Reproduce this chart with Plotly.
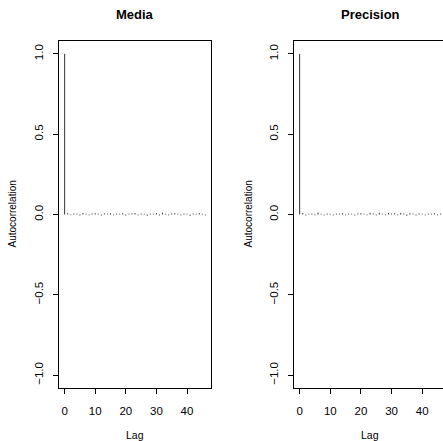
import plotly.graph_objects as go

# Data: autocorrelation by lag (0..46)
lags = list(range(0, 47))
acf_media = [1.0, 0.008, -0.004, 0.006, 0.005, -0.006, 0.009, 0.005, -0.005, 0.006,
             0.008, 0.005, -0.006, 0.007, 0.005, 0.008, -0.005, 0.006, 0.005, 0.008,
             -0.006, 0.005, 0.007, 0.009, -0.005, 0.006, 0.005, -0.008, 0.006, 0.005,
             0.009, -0.006, 0.011, 0.005, -0.005, 0.007, 0.008, 0.005, -0.006, 0.007,
             0.005, -0.008, 0.006, 0.005, 0.009, 0.005, -0.005]
acf_prec = [1.0, 0.009, -0.006, 0.005, 0.006, -0.005, 0.012, 0.005, -0.006, 0.006,
            0.005, -0.005, 0.006, 0.005, 0.008, -0.005, 0.006, 0.005, -0.006, 0.007,
            0.008, 0.005, -0.005, 0.010, 0.006, -0.006, 0.011, 0.005, -0.005, 0.010,
            0.006, 0.008, -0.005, 0.010, 0.006, -0.008, 0.008, 0.005, -0.006, 0.007,
            0.005, -0.005, 0.006, 0.005, 0.008, -0.005, 0.006]
titles = ["Media", "Precision"]
x_ticks = [0, 10, 20, 30, 40]
y_ticks = [-1.0, -0.5, 0.0, 0.5, 1.0]
y_tick_labels = ["\u22121.0", "\u22120.5", "0.0", "0.5", "1.0"]

W, H = 443, 441
FONT = "Liberation Sans, Arial, Helvetica, sans-serif"

def segs(xs, ys):
    sx, sy = [], []
    for a, b in zip(xs, ys):
        sx += [a, a, None]
        sy += [0, b, None]
    return sx, sy

fig = go.Figure()
for i, vals in enumerate([acf_media, acf_prec]):
    sx, sy = segs(lags, vals)
    fig.add_trace(go.Scatter(x=sx, y=sy, mode="lines",
                             line=dict(color="#333333", width=1),
                             xaxis="x" if i == 0 else "x2",
                             yaxis="y" if i == 0 else "y2",
                             showlegend=False, hoverinfo="skip"))

ydom = [1 - 388 / H, 1 - 41 / H]
axis_common = dict(showgrid=False, zeroline=False, showline=True, linecolor="black",
                   linewidth=1, ticks="outside", ticklen=5, tickcolor="black",
                   tickwidth=1, tickfont=dict(family=FONT, size=11.5, color="black"))

fig.update_layout(
    width=W, height=H, margin=dict(l=0, r=0, t=0, b=0),
    paper_bgcolor="white", plot_bgcolor="white",
    xaxis=dict(domain=[59 / W, 211 / W], range=[-1.84, 47.84], tickvals=x_ticks,
               mirror=True, anchor="y", ticklabelstandoff=7, **axis_common),
    yaxis=dict(domain=ydom, range=[-1.08, 1.08], tickvals=y_ticks, ticktext=y_tick_labels,
               tickangle=-90, mirror=True, anchor="x", ticklabelstandoff=5, **axis_common),
    xaxis2=dict(domain=[294 / W, 1.0], range=[-1.84, 46.8], tickvals=x_ticks,
                mirror=True, anchor="y2", ticklabelstandoff=7, **axis_common),
    yaxis2=dict(domain=ydom, range=[-1.08, 1.08], tickvals=y_ticks, ticktext=y_tick_labels,
                tickangle=-90, mirror=False, anchor="x2", ticklabelstandoff=5, **axis_common),
)

centers = [135, 370]
ann = []
for c, t in zip(centers, titles):
    ann.append(dict(x=c / W, y=1 - 14 / H, xref="paper", yref="paper", text="<b>%s</b>" % t,
                    showarrow=False, font=dict(family=FONT, size=13, color="black"),
                    xanchor="center", yanchor="middle"))
    ann.append(dict(x=c / W, y=1 - 435 / H, xref="paper", yref="paper", text="Lag",
                    showarrow=False, font=dict(family=FONT, size=10.5, color="black"),
                    xanchor="center", yanchor="middle"))
for xc in [12, 248]:
    ann.append(dict(x=xc / W, y=1 - 214.5 / H, xref="paper", yref="paper",
                    text="Autocorrelation", textangle=-90, showarrow=False,
                    font=dict(family=FONT, size=10, color="black"),
                    xanchor="center", yanchor="middle"))
fig.update_layout(annotations=ann)

fig.write_html("out.html")
